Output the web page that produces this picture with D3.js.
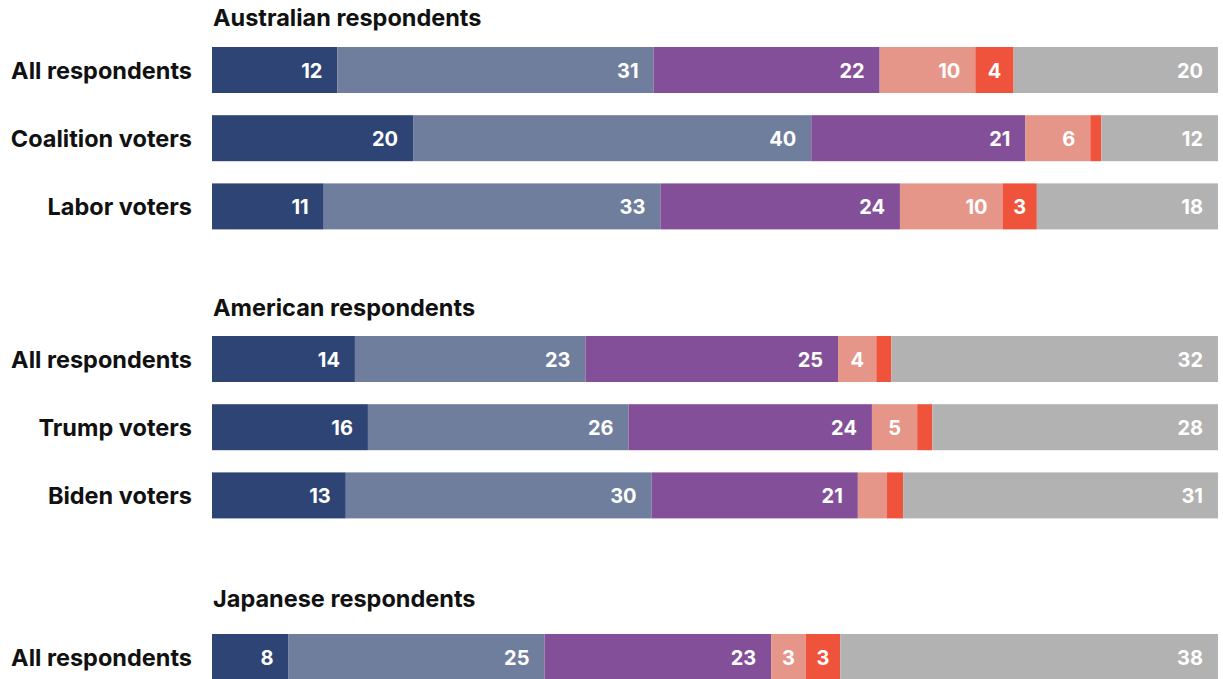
<!DOCTYPE html>
<html>
<head>
<meta charset="utf-8">
<script src="https://cdn.jsdelivr.net/npm/d3@7"></script>
<style>
  html, body { margin: 0; padding: 0; background: #fff; }
  svg { display: block; }
  text { font-family: Inter, "Noto Sans", sans-serif; font-weight: 700; }
</style>
</head>
<body>
<svg id="chart" width="1223" height="679"></svg>
<script>
// ---- Data (labels show them rounded) ----
const groupTitles = ["Australian respondents", "American respondents", "Japanese respondents"];
const categories = ["All respondents", "Coalition voters", "Labor voters",
                    "All respondents", "Trump voters", "Biden voters",
                    "All respondents"];
const categoryGroup = [0, 0, 0, 1, 1, 1, 2];
const seriesKeys = ["s1", "s2", "s3", "s4", "s5", "s6"];
const s1 = [12.45, 20.0, 11.1, 14.2, 15.5, 13.3, 7.6];
const s2 = [31.4, 39.6, 33.45, 22.9, 25.9, 30.4, 25.4];
const s3 = [22.45, 21.3, 23.8, 25.1, 24.2, 20.5, 22.5];
const s4 = [9.5, 6.45, 10.2, 3.8, 4.5, 2.9, 3.45];
const s5 = [3.8, 1.1, 3.4, 1.5, 1.5, 1.6, 3.4];
const s6 = [20.3, 11.6, 18.0, 32.45, 28.4, 31.3, 37.5];
const seriesColors = ["#2e4474", "#6e7e9c", "#844f99", "#e69689", "#f0533b", "#b2b2b2"];

// ---- Layout ----
const barLeft = 212, barRight = 1218, barH = 46;
const groupTop = [47, 336, 634];
const titleBaseline = [26, 316, 607];
const rowStep = 68.2;

const svg = d3.select("#chart");

const table = categories.map((c, i) => ({
  idx: i, category: c, group: categoryGroup[i],
  s1: s1[i], s2: s2[i], s3: s3[i], s4: s4[i], s5: s5[i], s6: s6[i]
}));

const withinGroup = table.map(d => table.filter(e => e.group === d.group && e.idx < d.idx).length);
const rowTop = i => groupTop[categoryGroup[i]] + withinGroup[i] * rowStep;

const x = d3.scaleLinear().domain([0, 1]).range([barLeft, barRight]);
const color = d3.scaleOrdinal().domain(seriesKeys).range(seriesColors);

const stacked = d3.stack().keys(seriesKeys).offset(d3.stackOffsetExpand)(table);

// group titles
svg.append("g").selectAll("text")
  .data(groupTitles)
  .join("text")
  .attr("x", barLeft + 1)
  .attr("y", (d, i) => titleBaseline[i])
  .attr("font-size", 23.5)
  .attr("fill", "#111")
  .text(d => d);

// row labels
svg.append("g").selectAll("text")
  .data(table)
  .join("text")
  .attr("x", barLeft - 20)
  .attr("y", d => rowTop(d.idx) + barH / 2 + 8.5)
  .attr("text-anchor", "end")
  .attr("font-size", 23.5)
  .attr("fill", "#111")
  .text(d => d.category);

// bars
const layers = svg.append("g").selectAll("g")
  .data(stacked)
  .join("g")
  .attr("fill", d => color(d.key));

layers.selectAll("rect")
  .data(d => d.map(p => ({ p, key: d.key })))
  .join("rect")
  .attr("x", d => x(d.p[0]))
  .attr("y", d => rowTop(d.p.data.idx))
  .attr("width", d => x(d.p[1]) - x(d.p[0]))
  .attr("height", barH);

// value labels
const labels = [];
stacked.forEach(layer => {
  layer.forEach(p => {
    const v = p.data[layer.key];
    if (v >= 3) labels.push({ v, x0: x(p[0]), x1: x(p[1]), top: rowTop(p.data.idx) });
  });
});

svg.append("g").selectAll("text")
  .data(labels)
  .join("text")
  .attr("x", d => d.v >= 6 ? d.x1 - 15 : (d.x0 + d.x1) / 2)
  .attr("text-anchor", d => d.v >= 6 ? "end" : "middle")
  .attr("y", d => d.top + barH / 2 + 7.5)
  .attr("font-size", 20)
  .attr("fill", "#fff")
  .text(d => Math.round(d.v));
</script>
</body>
</html>
